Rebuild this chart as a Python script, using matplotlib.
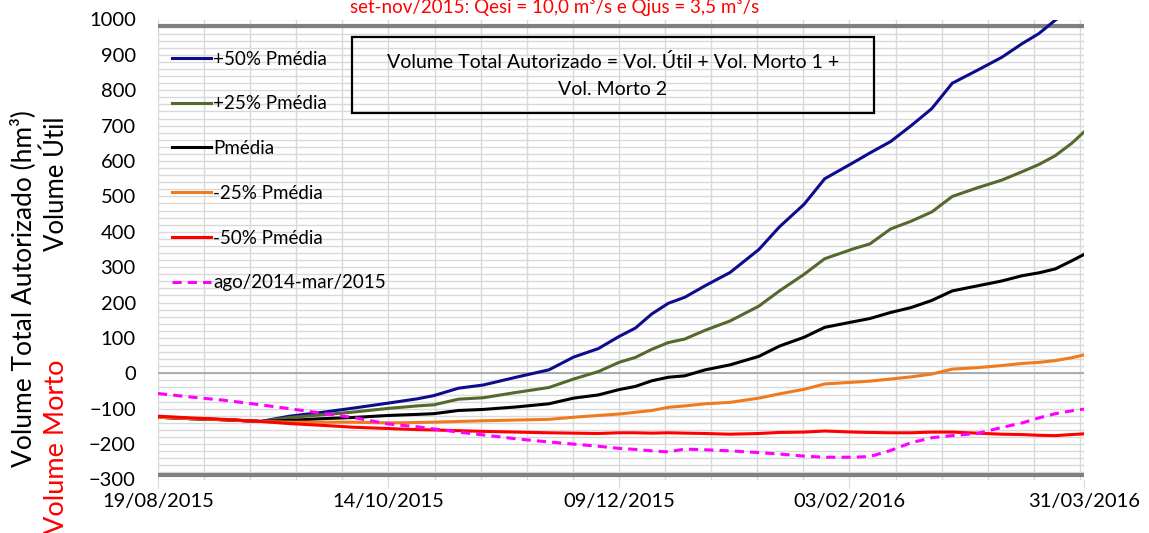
import matplotlib

matplotlib.use('Agg')
import matplotlib.pyplot as plt
from matplotlib.ticker import MultipleLocator, FixedLocator

plt.rcParams['font.family'] = ['Lato', 'DejaVu Sans']

# dias contados a partir de 19/08/2015
dias = [0, 8, 16, 25, 32, 40, 47, 56, 63, 67, 73, 79, 87, 95, 101, 107, 112, 116, 120, 124,
        128, 133, 139, 146, 151, 157, 162, 169, 173, 178, 183, 188, 193, 199, 205, 210, 214, 218, 222, 225]

mais50 = [-124, -128, -131, -136, -121, -110, -99, -84, -72, -63, -42, -33, -11, 10, 46, 70, 104, 128, 168, 198,
          215, 248, 285, 350, 414, 478, 550, 596, 623, 655, 700, 748, 820, 856, 893, 932, 960, 998, 1030, 1050]
mais25 = [-124, -128, -131, -136, -125, -117, -110, -99, -92, -89, -73, -69, -54, -40, -16, 5, 31, 45, 68, 87,
          97, 122, 148, 190, 233, 280, 324, 352, 366, 408, 430, 456, 500, 524, 546, 570, 590, 615, 650, 682]
pmedia = [-124, -128, -131, -136, -133, -128, -125, -119, -116, -114, -105, -102, -95, -86, -70, -61, -46, -37, -21, -11,
          -7, 10, 24, 48, 77, 102, 130, 146, 155, 172, 186, 206, 233, 247, 261, 276, 284, 295, 318, 336]
menos25 = [-124, -128, -131, -136, -138, -138, -138, -140, -139, -138, -136, -134, -132, -130, -124, -119, -115, -110, -105, -96,
           -92, -86, -82, -70, -58, -45, -30, -25, -22, -16, -10, -2, 12, 16, 22, 28, 31, 36, 44, 52]
menos50 = [-121, -126, -130, -136, -142, -147, -152, -156, -159, -160, -162, -164, -166, -168, -169, -170, -168, -168, -169, -168,
           -169, -170, -172, -170, -167, -166, -163, -166, -167, -168, -168, -166, -166, -169, -172, -173, -175, -176, -173, -171]
ago14_mar15 = [-57, -67, -76, -89, -100, -113, -124, -143, -151, -157, -166, -174, -185, -194, -200, -206, -212, -215, -219, -222,
               -214, -216, -219, -224, -228, -234, -237, -237, -235, -218, -196, -182, -176, -170, -153, -140, -126, -114, -106, -101]

rotulos_x = ['19/08/2015', '14/10/2015', '09/12/2015', '03/02/2016', '31/03/2016']
pos_x = [0, 56, 112, 168, 225]

series = [
    (mais50, '+50% Pmédia', '#0d0d8c', '-'),
    (mais25, '+25% Pmédia', '#55692f', '-'),
    (pmedia, 'Pmédia', '#000000', '-'),
    (menos25, '-25% Pmédia', '#f07b1e', '-'),
    (menos50, '-50% Pmédia', '#ff0000', '-'),
    (ago14_mar15, 'ago/2014-mar/2015', '#ff00ff', (0, (3, 2))),
]

fig = plt.figure(figsize=(11.49, 5.33), dpi=100)
ax = fig.add_axes([158 / 1149, 1 - 479.5 / 533, (1084 - 158) / 1149, (479.5 - 19.5) / 533])

ax.set_xlim(0, 225)
ax.set_ylim(-300, 1000)

# grade estilo Excel
ax.yaxis.set_major_locator(MultipleLocator(100))
ax.yaxis.set_minor_locator(MultipleLocator(20))
ax.xaxis.set_major_locator(FixedLocator(pos_x))
ax.xaxis.set_minor_locator(FixedLocator([i * 11.2 for i in range(21)]))
ax.set_xticklabels(rotulos_x)
ax.grid(which='both', color='#d9d9d9', linewidth=1.0)
ax.set_axisbelow(True)
for s in ax.spines.values():
    s.set_visible(False)
ax.tick_params(axis='y', which='both', length=0, labelsize=14.5, pad=16)
ax.tick_params(axis='x', which='major', length=6, color='#d9d9d9', labelsize=14.5, pad=4)
ax.tick_params(axis='x', which='minor', length=0)

ax.axhline(0, color='#a6a6a6', linewidth=1.3, zorder=1)
ax.axhline(983, color='#808080', linewidth=3, zorder=1)
ax.axhline(-287, color='#808080', linewidth=3, zorder=1)

for valores, nome, cor, estilo in series:
    ax.plot(dias, valores, color=cor, linestyle=estilo, linewidth=2.2, label=nome, zorder=3)

leg = ax.legend(loc='upper left', bbox_to_anchor=(164 / 1149, 1 - 43 / 533), bbox_transform=fig.transFigure,
                frameon=False, fontsize=13.5, handlelength=2.1, handletextpad=0.12, labelspacing=1.48,
                borderaxespad=0)

ax.text(0.5 * (352 + 874) / 1149, 1 - 75.5 / 533,
        'Volume Total Autorizado = Vol. Útil + Vol. Morto 1 +\nVol. Morto 2',
        transform=fig.transFigure, ha='center', va='center', fontsize=14, linespacing=1.65)
caixa = plt.Rectangle((352 / 1149, 1 - 113 / 533), (874 - 352) / 1149, 76 / 533, transform=fig.transFigure,
                      fill=False, edgecolor='black', linewidth=1.6, zorder=5)
fig.patches.append(caixa)

fig.text(555 / 1149, 1 - 13 / 533, 'set-nov/2015: Qesi = 10,0 m³/s e Qjus = 3,5 m³/s',
         color='#ff0000', fontsize=13.5, ha='center', va='baseline')

fig.text(23 / 1149, 1 - 289 / 533, 'Volume Total Autorizado (hm³)', rotation=90, fontsize=19,
         ha='center', va='center')
fig.text(56 / 1149, 1 - 184 / 533, 'Volume Útil', rotation=90, fontsize=18.5, ha='center', va='center')
fig.text(57 / 1149, 1 - 447 / 533, 'Volume Morto', rotation=90, fontsize=19.5, color='#ff0000',
         ha='center', va='center')

fig.savefig('out.png', dpi=100)
